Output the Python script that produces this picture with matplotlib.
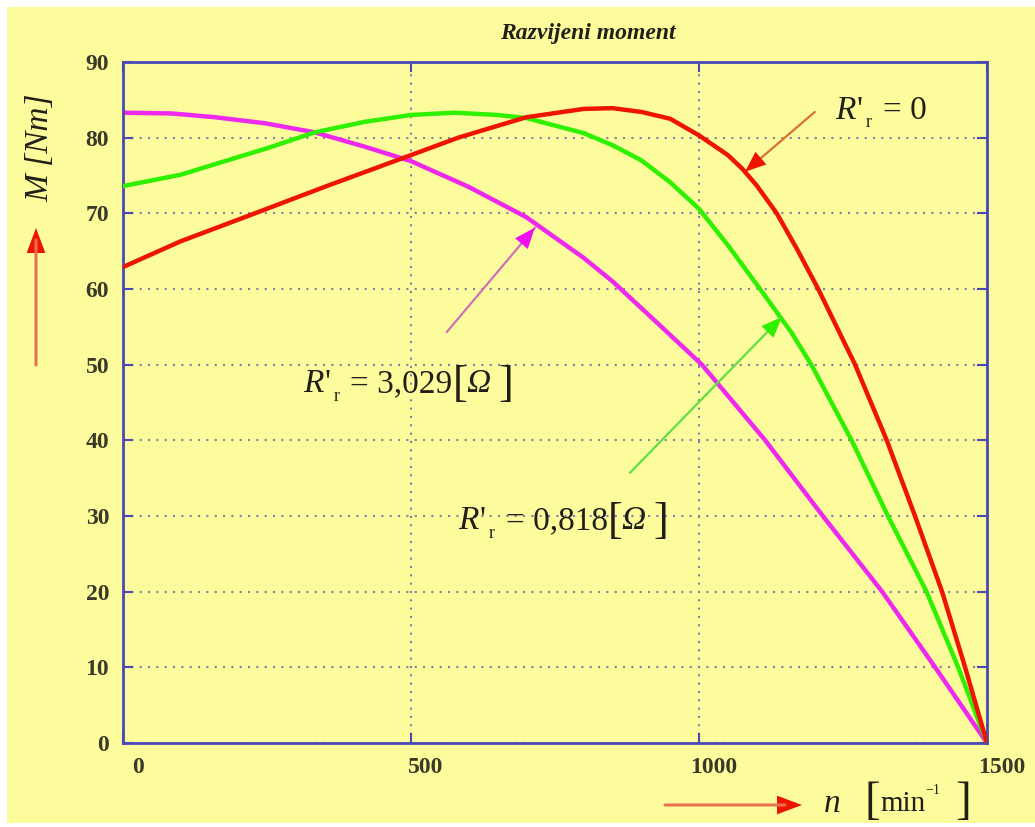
import numpy as np
import matplotlib.pyplot as plt
from matplotlib.patches import Rectangle
from matplotlib.transforms import ScaledTranslation

# values
n_r0 = [0, 100, 229, 350, 500, 582, 700, 800, 850, 900, 950, 1000, 1050, 1075,
        1100, 1135, 1170, 1207, 1271, 1326, 1375, 1422, 1462, 1500]
m_r0 = [62.9, 66.3, 70.0, 73.5, 77.7, 80.0, 82.7, 83.8, 83.9, 83.4, 82.5, 80.3,
        77.7, 75.9, 73.7, 70.0, 65.3, 60.0, 50.0, 40.0, 30.0, 20.0, 10.0, 0.0]

n_r818 = [0, 100, 250, 333, 420, 500, 575, 650, 700, 800, 850, 900, 950, 1000,
          1050, 1106, 1160, 1195, 1265, 1328, 1395, 1450, 1500]
m_r818 = [73.6, 75.1, 78.6, 80.7, 82.1, 83.0, 83.3, 83.0, 82.6, 80.6, 79.0, 77.0,
          74.1, 70.6, 65.8, 60.0, 54.3, 50.0, 40.0, 30.0, 20.0, 10.0, 0.0]

n_r3029 = [0, 85, 160, 247, 333, 420, 500, 600, 700, 800, 850, 925, 1005, 1115,
           1215, 1318, 1410, 1500]
m_r3029 = [83.3, 83.2, 82.7, 81.9, 80.7, 78.8, 76.9, 73.5, 69.5, 64.1, 61.0, 55.7,
           50.0, 40.0, 30.0, 20.0, 10.0, 0.0]

x_ticks = [0, 500, 1000, 1500]
y_ticks = list(range(0, 100, 10))

yellow = '#fdfc9c'
blue = '#4848b8'
label_col = '#3a3a28'
ink = '#202018'

plt.rcParams['font.family'] = ['Liberation Serif', 'DejaVu Serif']

fig = plt.figure(figsize=(10.35, 8.27), dpi=100)
fig.patch.set_facecolor('white')
fig.patches.append(Rectangle((7 / 1035, 4 / 827), 1028 / 1035, 816 / 827,
                             transform=fig.transFigure, facecolor=yellow,
                             edgecolor='none', zorder=-10))

ax = fig.add_axes([123 / 1035, 84 / 827, 864 / 1035, 681 / 827])
ax.set_facecolor(yellow)

ax.plot(n_r0, m_r0, color='#ee1400', lw=3.2, zorder=4)
ax.plot(n_r818, m_r818, color='#2ef000', lw=3.2, zorder=3)
ax.plot(n_r3029, m_r3029, color='#ee28ee', lw=3.2, zorder=2)

ax.set_xlim(0, 1500)
ax.set_ylim(0, 90)
ax.set_xticks(x_ticks)
ax.set_yticks(y_ticks)
ax.grid(True, linestyle=(0, (1, 3)), color='#8080a8', lw=1.5)
ax.set_axisbelow(True)
for s in ax.spines.values():
    s.set_color(blue)
    s.set_linewidth(2)
ax.tick_params(direction='in', length=7, width=1.5, color=blue,
               top=True, right=True, labelsize=17, labelcolor=label_col)
ax.tick_params(axis='x', pad=10)
ax.tick_params(axis='y', pad=10)
for lab in ax.get_xticklabels() + ax.get_yticklabels():
    lab.set_fontweight('bold')
for lab in ax.get_xticklabels():
    lab.set_transform(lab.get_transform() + ScaledTranslation(0.15, 0, fig.dpi_scale_trans))


def pointer(xy_from, xy_to, shaft, head):
    ax.annotate('', xy=xy_to, xytext=xy_from,
                arrowprops=dict(arrowstyle='-', color=shaft, lw=1.6,
                                shrinkA=0, shrinkB=0))
    dx = xy_to[0] - xy_from[0]
    dy = xy_to[1] - xy_from[1]
    ax.annotate('', xy=xy_to, xytext=(xy_to[0] - 0.2 * dx, xy_to[1] - 0.2 * dy),
                arrowprops=dict(arrowstyle='-|>,head_length=1.0,head_width=0.4',
                                color=head, lw=0, mutation_scale=15,
                                shrinkA=0, shrinkB=0))


def chain(prev, s, dx=0, dy=0, **kw):
    # put text s right after the previous text artist
    return ax.annotate(s, xy=(1, 0), xycoords=prev, xytext=(dx, dy),
                       textcoords='offset points', ha='left', va='bottom',
                       color=ink, **kw)


def r_label(x, y, value, ohm=True):
    t = ax.text(x, y, 'R', fontsize=24, style='italic', color=ink,
                ha='left', va='bottom')
    t = chain(t, "'", dx=1, fontsize=24)
    t = chain(t, 'r', dx=2, dy=-4, fontsize=13)
    t = chain(t, '= ' + value, dx=8, dy=4, fontsize=24)
    if ohm:
        t = chain(t, '[', dx=0, dy=-4, fontsize=32)
        t = chain(t, '\u03a9', dx=-1, dy=4, fontsize=24, style='italic')
        chain(t, ']', dx=6, dy=-4, fontsize=32)


pointer((1201, 83.4), (1080, 75.5), '#d8703a', '#ee1400')
pointer((562, 54.3), (715, 68.1), '#d070b8', '#ee10ee')
pointer((880, 35.7), (1144, 56.3), '#60e040', '#2ef000')

r_label(1236, 81.6, '0', ohm=False)
r_label(312, 45.4, '3,029')
r_label(582, 27.3, '0,818')

fig.text(588 / 1035, 1 - 34 / 827, 'Razvijeni moment', fontsize=17,
         fontweight='bold', style='italic', ha='center', va='center', color=ink)
fig.text(40 / 1035, 1 - 148 / 827, 'M [Nm]', fontsize=24, style='italic',
         rotation=90, ha='center', va='center', color=ink)

# x axis unit label
fig.text(824 / 1035, 1 - 804 / 827, 'n', fontsize=24, style='italic',
         ha='left', va='center', color=ink)
fig.text(864 / 1035, 1 - 803 / 827, '[', fontsize=34, ha='left', va='center', color=ink)
fig.text(880 / 1035, 1 - 804 / 827, 'min', fontsize=21, ha='left', va='center', color=ink)
fig.text(925 / 1035, 1 - 791 / 827, '\u2212' + '1', fontsize=10, ha='left', va='center', color=ink)
fig.text(955 / 1035, 1 - 803 / 827, ']', fontsize=34, ha='left', va='center', color=ink)

# axis direction arrows
fig_arrow = dict(xycoords='figure pixels', textcoords='figure pixels')
fig.add_artist(plt.Annotation('', xy=(36, 827 - 228), xytext=(36, 827 - 365),
                              arrowprops=dict(arrowstyle='-|>,head_length=1.2,head_width=0.45',
                                              color='#ee1400', lw=0, mutation_scale=15,
                                              shrinkA=0, shrinkB=0), **fig_arrow))
fig.add_artist(plt.Annotation('', xy=(36, 827 - 240), xytext=(36, 827 - 365),
                              arrowprops=dict(arrowstyle='-', color='#e87050', lw=2.2,
                                              shrinkA=0, shrinkB=0), **fig_arrow))
fig.add_artist(plt.Annotation('', xy=(802, 22), xytext=(665, 22),
                              arrowprops=dict(arrowstyle='-|>,head_length=1.2,head_width=0.45',
                                              color='#ee1400', lw=0, mutation_scale=15,
                                              shrinkA=0, shrinkB=0), **fig_arrow))
fig.add_artist(plt.Annotation('', xy=(785, 22), xytext=(665, 22),
                              arrowprops=dict(arrowstyle='-', color='#e87050', lw=2.2,
                                              shrinkA=0, shrinkB=0), **fig_arrow))

fig.savefig('out.png', dpi=100, facecolor=fig.get_facecolor())
